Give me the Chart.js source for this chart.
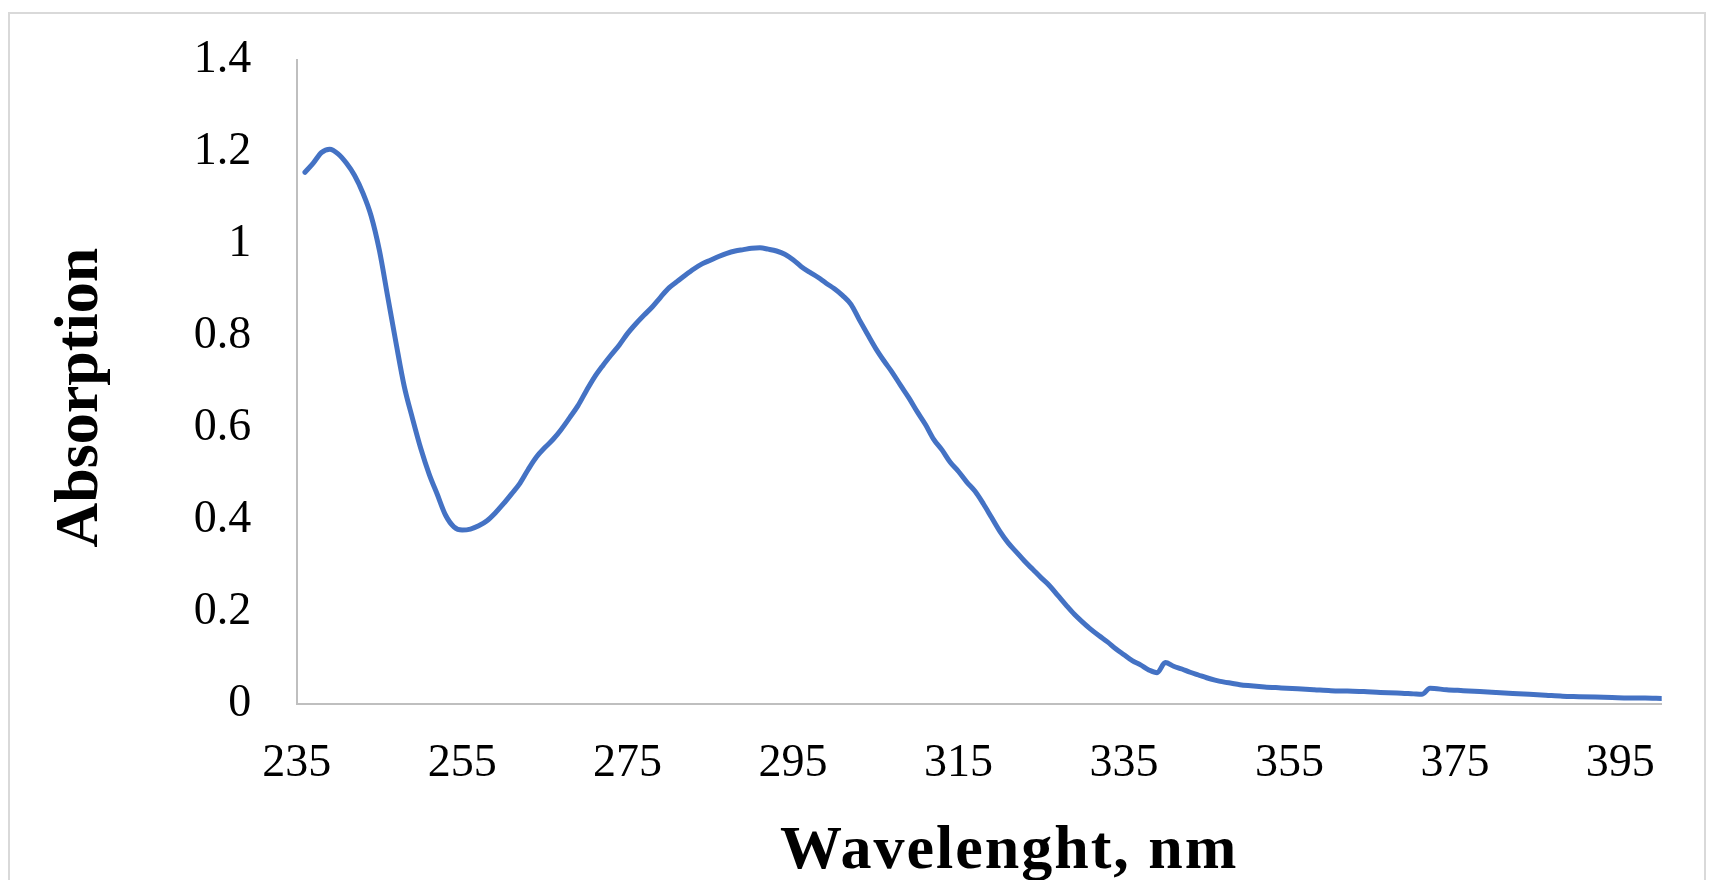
<!DOCTYPE html>
<html>
<head>
<meta charset="utf-8">
<script src="https://cdn.jsdelivr.net/npm/chart.js@4.4.1/dist/chart.umd.min.js"></script>
<style>
  html, body { margin: 0; padding: 0; background: #ffffff; }
  #wrap { position: relative; width: 1716px; height: 880px; overflow: hidden; }
  #frame { position: absolute; left: 8px; top: 12px; width: 1698px; height: 900px; border: 2px solid #d9d9d9; box-sizing: border-box; }
  #cv { position: absolute; left: 0; top: 0; }
</style>
</head>
<body>
<div id="wrap">
  <div id="frame"></div>
  <canvas id="cv" width="1716" height="880"></canvas>
</div>
<script>
// Wavelength (nm) and absorption values
const wavelength = [
  236,237,238,239,240,241,242,243,244,245,246,247,248,249,250,
  251,252,253,254,255,256,257,258,259,260,261,262,263,264,265,
  266,267,268,269,270,271,272,273,274,275,276,277,278,279,280,
  281,282,283,284,285,286,287,288,289,290,291,292,293,294,295,
  296,297,298,299,300,301,302,303,304,305,306,307,308,309,310,
  311,312,313,314,315,316,317,318,319,320,321,322,323,324,325,
  326,327,328,329,330,331,332,333,334,335,336,337,338,339,340,
  341,342,343,344,345,346,347,348,349,350,352,354,356,358,360,
  362,364,366,368,370,371,372,374,376,378,380,382,384,386,388,
  390,392,394,396,398,400
];
const absorption = [
  1.155,1.175,1.198,1.205,1.195,1.175,1.148,1.110,1.060,0.985,0.885,0.785,0.690,0.620,0.555,
  0.500,0.455,0.410,0.385,0.378,0.380,0.387,0.398,0.415,0.435,0.457,0.480,0.510,0.537,0.557,
  0.575,0.597,0.622,0.648,0.680,0.710,0.735,0.758,0.780,0.805,0.826,0.845,0.863,0.884,0.904,
  0.918,0.932,0.945,0.956,0.964,0.972,0.979,0.984,0.987,0.990,0.991,0.988,0.984,0.977,0.965,
  0.950,0.938,0.927,0.914,0.902,0.887,0.868,0.835,0.803,0.772,0.745,0.720,0.692,0.665,0.635,
  0.607,0.575,0.552,0.525,0.505,0.482,0.462,0.435,0.405,0.375,0.350,0.330,0.310,0.292,0.274,
  0.257,0.236,0.215,0.195,0.178,0.162,0.148,0.135,0.120,0.107,0.094,0.085,0.074,0.068,0.090,
  0.082,0.076,0.069,0.063,0.057,0.052,0.048,0.045,0.042,0.040,0.037,0.035,0.033,0.031,0.029,
  0.028,0.027,0.025,0.024,0.022,0.021,0.034,0.031,0.029,0.027,0.025,0.023,0.021,0.019,0.017,
  0.016,0.015,0.014,0.013,0.013,0.012
];
const xTickValues = [235,255,275,295,315,335,355,375,395];
const yTickValues = [0,0.2,0.4,0.6,0.8,1,1.2,1.4];
const xTitle = 'Wavelenght, nm';
const yTitle = 'Absorption';

const points = wavelength.map((w, i) => ({ x: w, y: absorption[i] }));

const tickFont = { family: 'Liberation Serif', size: 46 };
const titleFont = 'bold 62px "Liberation Serif"';

const titlePlugin = {
  id: 'axisTitles',
  afterDraw(chart) {
    const ctx = chart.ctx;
    const a = chart.chartArea;
    ctx.save();
    ctx.fillStyle = '#000000';
    ctx.font = titleFont;
    ctx.textAlign = 'center';
    ctx.textBaseline = 'alphabetic';
    try { ctx.letterSpacing = '2px'; } catch (e) {}
    ctx.fillText(xTitle, (a.left + a.right) / 2 + 30, 868);
    try { ctx.letterSpacing = '0px'; } catch (e) {}
    ctx.translate(97, (a.top + a.bottom) / 2 + 16);
    ctx.rotate(-Math.PI / 2);
    ctx.fillText(yTitle, 0, 0);
    ctx.restore();
  }
};

new Chart(document.getElementById('cv'), {
  type: 'scatter',
  data: {
    datasets: [{
      data: points,
      showLine: true,
      borderColor: '#4472C4',
      backgroundColor: '#4472C4',
      borderWidth: 5,
      pointRadius: 0,
      pointHoverRadius: 0,
      tension: 0.3,
      cubicInterpolationMode: 'monotone',
      borderCapStyle: 'round',
      borderJoinStyle: 'round'
    }]
  },
  options: {
    responsive: false,
    animation: false,
    devicePixelRatio: 1,
    layout: { padding: { top: 59.5, right: 54.3, left: 0, bottom: 0 } },
    plugins: { legend: { display: false }, tooltip: { enabled: false }, title: { display: false } },
    scales: {
      x: {
        type: 'linear',
        min: 235,
        max: 400,
        grid: { display: false, drawTicks: false, tickLength: 0 },
        border: { display: true, color: '#bfbfbf', width: 2 },
        afterBuildTicks(scale) { scale.ticks = xTickValues.map(v => ({ value: v })); },
        afterFit(scale) { scale.height = 176; scale.paddingLeft = 0; scale.paddingRight = 0; },
        ticks: {
          font: tickFont,
          color: '#000000',
          padding: 32,
          maxRotation: 0,
          autoSkip: false,
          callback: (v) => String(v)
        }
      },
      y: {
        type: 'linear',
        min: 0,
        max: 1.4,
        grid: { display: false, drawTicks: false, tickLength: 0 },
        border: { display: true, color: '#bfbfbf', width: 2 },
        afterBuildTicks(scale) { scale.ticks = yTickValues.map(v => ({ value: v })); },
        afterFit(scale) { scale.width = 296.7; scale.paddingTop = 0; scale.paddingBottom = 0; },
        ticks: {
          font: tickFont,
          color: '#000000',
          padding: 45.5,
          autoSkip: false,
          callback: (v) => String(Math.round(v * 10) / 10)
        }
      }
    }
  },
  plugins: [titlePlugin]
});
</script>
</body>
</html>
